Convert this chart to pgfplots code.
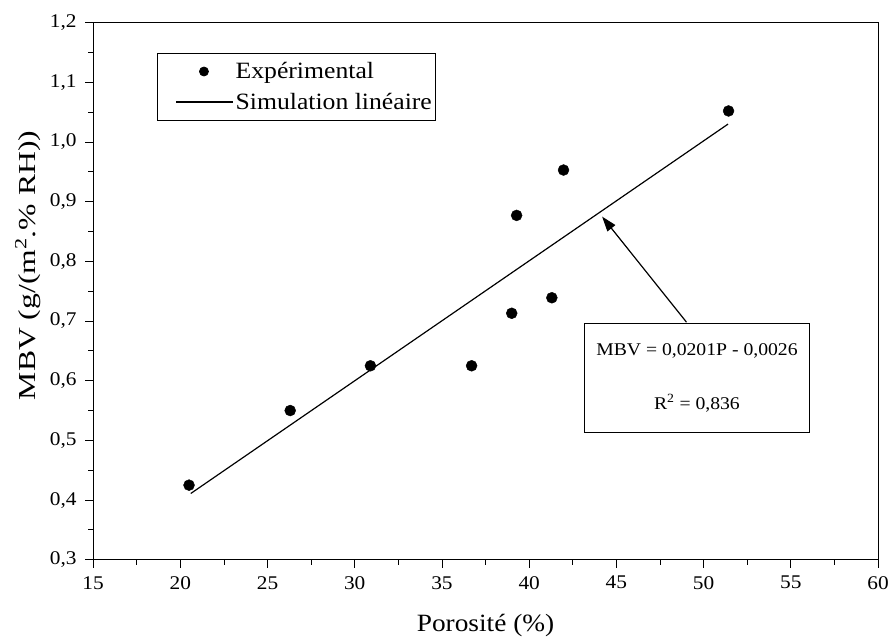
\documentclass[border=0pt]{standalone}
\usepackage{fontspec}
\setmainfont[FakeStretch=1.1]{Liberation Serif}
\newfontfamily\ylabfont[FakeStretch=1.3]{Liberation Serif}
\usepackage{pgfplots}
\pgfplotsset{compat=1.18}
\usetikzlibrary{arrows.meta}
\begin{document}
\begin{tikzpicture}[x=1bp,y=1bp]
\begin{axis}[
  scale only axis,
  width=786.7bp, height=538.3bp,
  clip=false,
  xmin=15, xmax=60, ymin=0.3, ymax=1.2,
  xtick={15,20,...,60},
  ytick={0.3,0.4,...,1.2},
  minor tick num=1,
  tick align=outside,
  tick pos=left,
  major tick length=8bp,
  minor tick length=5bp,
  axis line style={line width=1pt},
  every tick/.style={black, line width=0.8pt},
  /pgf/number format/assume math mode=true,
  /pgf/number format/use comma,
  yticklabel style={/pgf/number format/fixed,/pgf/number format/fixed zerofill,/pgf/number format/precision=1, xshift=-5bp},
  xticklabel style={/pgf/number format/fixed, yshift=-5bp},
  tick label style={font=\fontsize{19.5}{22}\selectfont},
  xlabel={Porosité (\%)},
  ylabel={MBV (g/(m\textsuperscript{2}.\% RH))},
  xlabel style={at={(axis description cs:0.5,-0.123)}, anchor=center, font=\fontsize{25}{28}\selectfont},
  ylabel style={at={(axis description cs:-0.083,0.548)}, anchor=center, font=\ylabfont\fontsize{24.5}{27}\selectfont},
  legend style={at={(0.081,0.943)}, anchor=north west, draw=black, line width=0.8pt,
    font=\fontsize{23.5}{26}\selectfont, row sep=9bp, inner xsep=2bp, inner ysep=7bp},
  legend cell align=left,
]
\addplot[only marks, mark=*, mark size=5.5bp, black,
  legend image code/.code={\fill[black] (45bp,0bp) circle (4.5bp); \path[draw=none] (0bp,0bp) -- (74bp,0bp);}]
  coordinates {(20.5,0.425) (26.3,0.550) (30.9,0.625) (36.7,0.625) (39.0,0.713) (39.28,0.877) (41.3,0.739) (41.97,0.953) (51.43,1.052)};
\addlegendentry{Expérimental}
\addplot[black, line width=1.2pt,
  legend image code/.code={\draw[black,line width=1.5pt] (17bp,0bp) -- (74bp,0bp); \path[draw=none] (0bp,0bp) -- (1bp,0bp);}]
  coordinates {(20.6,0.411) (51.4,1.030)};
\addlegendentry{Simulation linéaire}
\draw[line width=1.2pt, -{Triangle[length=15bp,width=10bp]}] (axis cs:49.02,0.698) -- (axis cs:44.18,0.875);
\node[draw=black, line width=0.8pt, fill=white, minimum width=225bp, minimum height=109bp, align=center,
  font=\fontsize{18}{20}\selectfont] at (axis cs:49.62,0.605)
  {MBV = 0,0201P - 0,0026\\[34bp] R\textsuperscript{2} = 0,836};
\path (rel axis cs:0,0) ++(-93.3bp,-73bp) coordinate (bbA);
\path (rel axis cs:1,1) ++(12bp,22.7bp) coordinate (bbB);
\path (bbA) rectangle (bbB);
\end{axis}
\end{tikzpicture}
\end{document}
